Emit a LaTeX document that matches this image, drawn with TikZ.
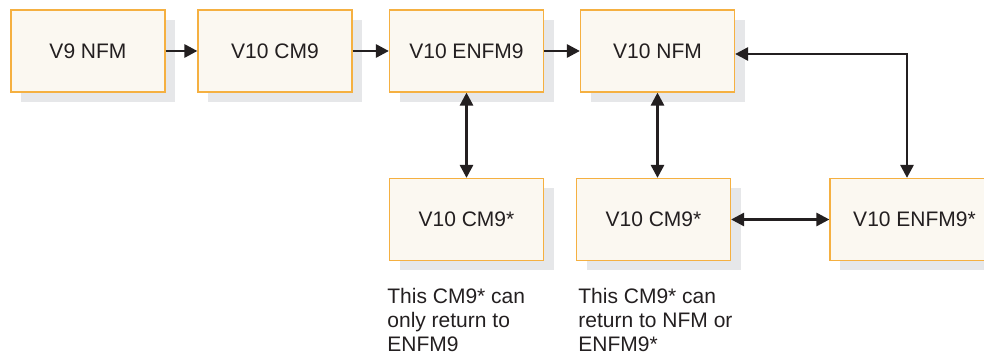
\documentclass[tikz,border=0pt]{standalone}
\usepackage{fontspec}
\setmainfont{Liberation Sans}
\usetikzlibrary{arrows.meta,shadows,positioning}
\definecolor{boxfill}{HTML}{FBF8F1}
\definecolor{boxline}{HTML}{F5B041}
\definecolor{boxshade}{HTML}{E6E7E9}
\definecolor{ink}{HTML}{231F20}

\begin{document}
\begin{tikzpicture}[x=0.5pt,y=-0.5pt,
  font=\fontsize{10.5}{12}\selectfont, text=ink,
  stage/.style={draw=boxline, line width=0.6pt, fill=boxfill, inner sep=0pt,
    minimum width=77pt, minimum height=41pt,
    drop shadow={shadow xshift=5pt, shadow yshift=-5pt, fill=boxshade, opacity=1}},
  note/.style={anchor=north west, align=left, inner sep=0pt},
  tip/.style={line width=1.4pt, draw=ink, -{Triangle[length=6.5pt,width=6.5pt]}},
  both/.style={line width=1.4pt, draw=ink, {Triangle[length=6.5pt,width=6.5pt]}-{Triangle[length=6.5pt,width=6.5pt]}}]
\useasboundingbox (0,0) rectangle (984,356);
% top row
\node[stage] (v9nfm) at (88,51) {V9 NFM};
\node[stage] (cm9) at (275,51) {V10 CM9};
\node[stage] (enfm9) at (466.5,51) {V10 ENFM9};
\node[stage] (nfm) at (657.5,51) {V10 NFM};
% bottom row
\node[stage] (cmstarA) at (466.5,219.5) {V10 CM9*};
\node[stage] (cmstarB) at (653.5,219.5) {V10 CM9*};
\node[stage, minimum width=84.5pt] (enfmstar) at (914.5,219.5) {V10 ENFM9*};
% notes
\node[note] (noteA) at (387,288) {This CM9* can\\only return to\\ENFM9};
\node[note] (noteB) at (578,288) {This CM9* can\\return to NFM or\\ENFM9*};
% connectors
\draw[tip] (v9nfm) -- (cm9);
\draw[tip] (cm9) -- (enfm9);
\draw[tip] (enfm9) -- (nfm);
\draw[both] (enfm9.south) -- (cmstarA.north);
\draw[both] (nfm.south) -- (nfm.south |- cmstarB.north);
\draw[both] (cmstarB.east) -- (enfmstar.west |- cmstarB.east);
\draw[both] ([yshift=-1.5pt]nfm.east) -| ([xshift=-3.75pt]enfmstar.north);
\end{tikzpicture}
\end{document}
